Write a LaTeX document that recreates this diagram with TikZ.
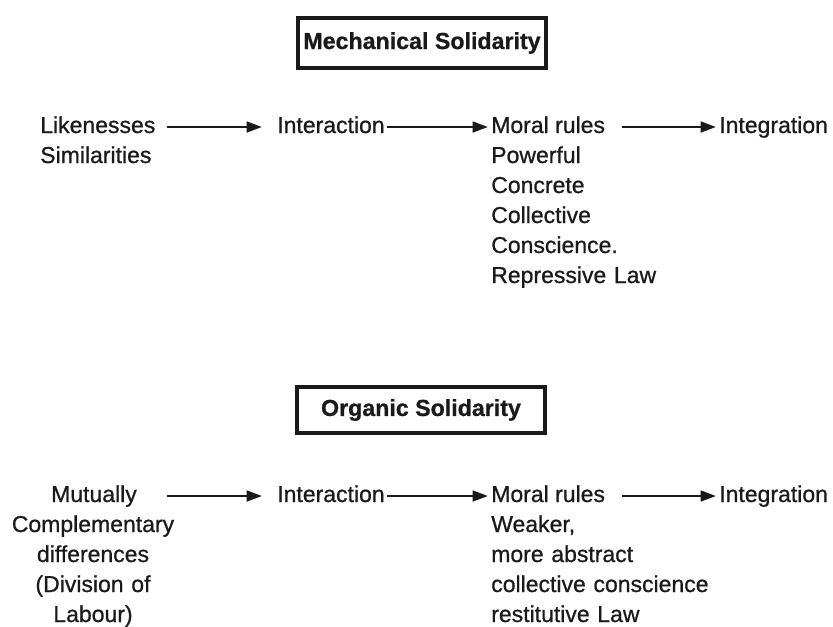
\documentclass[tikz,border=0pt]{standalone}
\usepackage{fontspec}
\setmainfont{Liberation Sans}[FakeBold=0.8]
\usetikzlibrary{arrows.meta}
\definecolor{ink}{HTML}{1A1A1A}
\begin{document}
\begin{tikzpicture}[x=0.75pt,y=-0.75pt,
  every node/.style={text=ink},
  txt/.style={font=\fontsize{17.25}{22.5}\selectfont, inner sep=0pt,
    text height=12pt, text depth=3pt, anchor=base west},
  col/.style={font=\fontsize{17.25}{22.5}\selectfont, inner sep=0pt,
    text width=#1, anchor=base west, align=left},
  ccol/.style={font=\fontsize{17.25}{22.5}\selectfont, inner sep=0pt,
    text width=#1, anchor=base, align=center},
  titlebox/.style={draw=ink, line width=2.6pt, font=\fontsize{17.4}{20}\selectfont\bfseries,
    minimum width=186pt, minimum height=#1, inner sep=0pt},
  arr/.style={draw=ink, line width=1.9pt, -{Triangle[length=11.5pt,width=8pt]}}
]
\useasboundingbox (0,0) rectangle (833,626);

% ---- Mechanical solidarity ----
\node[titlebox=37.5pt] (mech) at (422,43) {Mechanical Solidarity};

\node[txt] (like)   at (40,133)  {Likenesses};
\node[txt] (sim)    at (40,163)  {Similarities};
\node[txt] (int1)   at (277,133) {Interaction};
\node[txt] (moral1) at (491,133) {Moral rules};
\node[col=150pt] (traits1) at (491,163)
  {Powerful\\Concrete\\Collective\\Conscience.\\Repressive Law};
\node[txt] (integ1) at (719,133) {Integration};

\draw[arr, shorten <=8.25pt, shorten >=11.25pt] (like.east)   -- (int1.west);
\draw[arr, shorten <=1.5pt,  shorten >=2.25pt]  (int1.east)   -- (moral1.west);
\draw[arr, shorten <=12.75pt, shorten >=2.25pt] (moral1.east) -- (integ1.west);

% ---- Organic solidarity ----
\node[titlebox=34.5pt] (org) at (421,410) {Organic Solidarity};

\node[txt, anchor=base] (mut) at (94,502) {Mutually};
\node[ccol=140pt] (diff) at (93,532)
  {Complementary\\differences\\(Division of\\Labour)};
\node[txt] (int2)   at (277,502) {Interaction};
\node[txt] (moral2) at (491,502) {Moral rules};
\node[col=180pt] (traits2) at (491,532)
  {Weaker,\\more abstract\\collective conscience\\restitutive Law};
\node[txt] (integ2) at (719,502) {Integration};

\draw[arr, shorten <=22.5pt, shorten >=11.25pt] (mut.east)    -- (int2.west);
\draw[arr, shorten <=1.5pt,  shorten >=2.25pt]  (int2.east)   -- (moral2.west);
\draw[arr, shorten <=12.75pt, shorten >=2.25pt] (moral2.east) -- (integ2.west);
\end{tikzpicture}
\end{document}
